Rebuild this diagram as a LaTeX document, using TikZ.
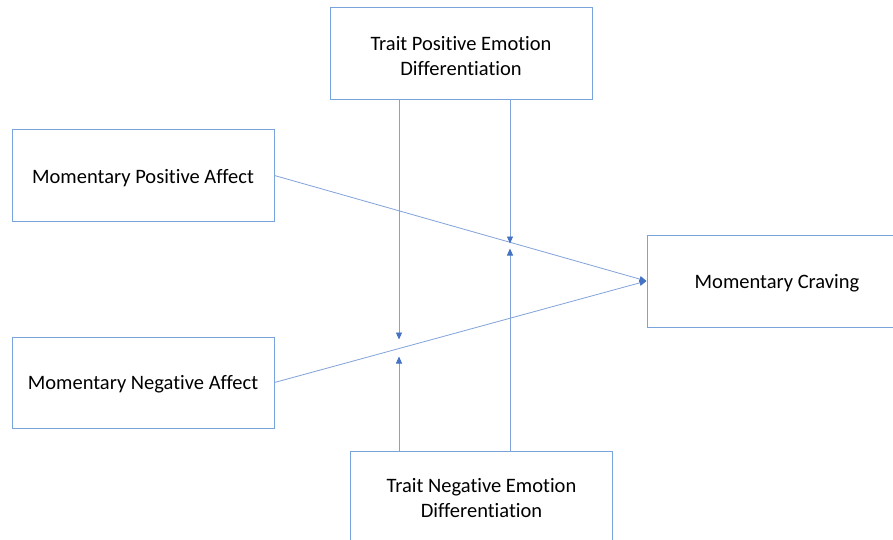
\documentclass[tikz,border=0pt]{standalone}
\usepackage{fontspec}
\setmainfont[RawFeature=-liga]{Carlito}
\usetikzlibrary{arrows.meta}
\definecolor{boxcol}{RGB}{120,163,220}
\definecolor{linecol}{RGB}{130,162,218}
\definecolor{headcol}{RGB}{68,114,196}
\begin{document}
\begin{tikzpicture}[x=1pt,y=-1pt,
  box/.style={draw=boxcol,line width=1pt,fill=white,inner sep=0pt,align=center,font=\fontsize{20.5}{24.5}\selectfont,text=black},
  lbl/.style={inner sep=0pt,align=center,font=\fontsize{20.5}{24.5}\selectfont,text=black},
  conn/.style={draw=linecol,line width=0.8pt,-{Triangle[length=7pt,width=6pt,fill=headcol,color=headcol]}}]
\useasboundingbox (0,0) rectangle (893,540);
\clip (0,0) rectangle (893,540);
\node[box,minimum width=262pt,minimum height=92pt] (tp) at (461,54) {};
\node[lbl] (tpl) at (461,56) {Trait Positive Emotion\\Differentiation};
\node[box,minimum width=262pt,minimum height=91pt] (pa) at (143,175.5) {};
\node[lbl] (pal) at (143,178) {Momentary Positive Affect};
\node[box,minimum width=262pt,minimum height=91pt] (na) at (143,382.5) {};
\node[lbl] (nal) at (143,384.5) {Momentary Negative Affect};
\node[box,minimum width=262pt,minimum height=92pt] (cr) at (778,281) {};
\node[lbl] (crl) at (777,283) {Momentary Craving};
\node[box,minimum width=262pt,minimum height=120pt,anchor=north] (tn) at (481.5,450.5) {};
\node[lbl] (tnl) at (481.5,498) {Trait Negative Emotion\\Differentiation};
\coordinate (a1) at (399,339.5);
\coordinate (a2) at (510,243.5);
\coordinate (a3) at (399,356.5);
\coordinate (a4) at (510,248.5);
\draw[conn] (pa.east) -- (cr.west);
\draw[conn] (na.east) -- (cr.west);
\draw[conn] (tp.south -| a1) -- (a1);
\draw[conn] (tp.south -| a2) -- (a2);
\draw[conn] (tn.north -| a3) -- (a3);
\draw[conn] (tn.north -| a4) -- (a4);
\end{tikzpicture}
\end{document}
